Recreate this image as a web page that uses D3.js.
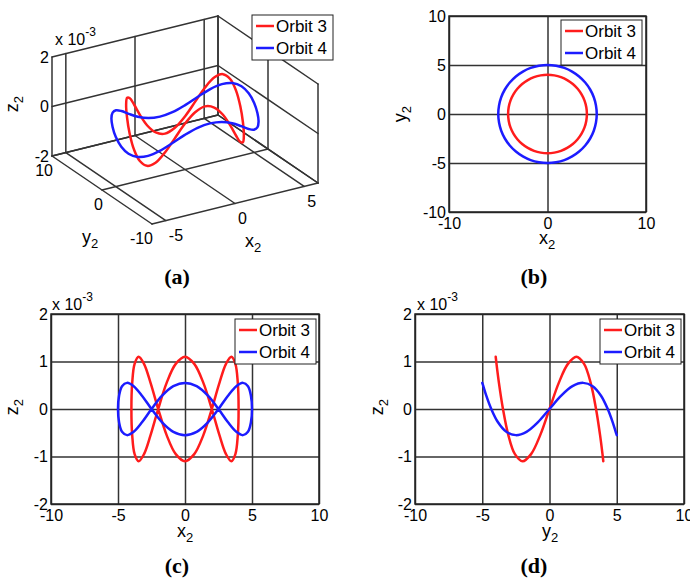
<!DOCTYPE html>
<html>
<head>
<meta charset="utf-8">
<script src="https://cdn.jsdelivr.net/npm/d3@7"></script>
<style>
  body { margin: 0; background: #fff; }
  svg text { font-family: "Liberation Sans", Arial, Helvetica, sans-serif; }
</style>
</head>
<body>
<svg id="fig" width="690" height="579"></svg>
<script>
// orbit samples (z in units of 1e-3)
const orbit3X = [4, 3.94, 3.76, 3.46, 3.06, 2.57, 2, 1.37, 0.69, 0, -0.69, -1.37, -2, -2.57, -3.06, -3.46, -3.76, -3.94,
                 -4, -3.94, -3.76, -3.46, -3.06, -2.57, -2, -1.37, -0.69, 0, 0.69, 1.37, 2, 2.57, 3.06, 3.46, 3.76, 3.94];
const orbit3Y = [0, 0.69, 1.37, 2, 2.57, 3.06, 3.46, 3.76, 3.94, 4, 3.94, 3.76, 3.46, 3.06, 2.57, 2, 1.37, 0.69,
                 0, -0.69, -1.37, -2, -2.57, -3.06, -3.46, -3.76, -3.94, -4, -3.94, -3.76, -3.46, -3.06, -2.57, -2, -1.37, -0.69];
const orbit3Z = [0, 0.55, 0.95, 1.1, 0.95, 0.55, 0, -0.55, -0.95, -1.1, -0.95, -0.55, 0, 0.55, 0.95, 1.1, 0.95, 0.55,
                 0, -0.55, -0.95, -1.1, -0.95, -0.55, 0, 0.55, 0.95, 1.1, 0.95, 0.55, 0, -0.55, -0.95, -1.1, -0.95, -0.55];

const orbit4X = [5, 4.92, 4.7, 4.33, 3.83, 3.21, 2.5, 1.71, 0.87, 0, -0.87, -1.71, -2.5, -3.21, -3.83, -4.33, -4.7, -4.92,
                 -5, -4.92, -4.7, -4.33, -3.83, -3.21, -2.5, -1.71, -0.87, 0, 0.87, 1.71, 2.5, 3.21, 3.83, 4.33, 4.7, 4.92];
const orbit4Y = [0, 0.87, 1.71, 2.5, 3.21, 3.83, 4.33, 4.7, 4.92, 5, 4.92, 4.7, 4.33, 3.83, 3.21, 2.5, 1.71, 0.87,
                 0, -0.87, -1.71, -2.5, -3.21, -3.83, -4.33, -4.7, -4.92, -5, -4.92, -4.7, -4.33, -3.83, -3.21, -2.5, -1.71, -0.87];
const orbit4Z = [0, 0.28, 0.48, 0.55, 0.48, 0.28, 0, -0.28, -0.48, -0.55, -0.48, -0.28, 0, 0.28, 0.48, 0.55, 0.48, 0.28,
                 0, -0.28, -0.48, -0.55, -0.48, -0.28, 0, 0.28, 0.48, 0.55, 0.48, 0.28, 0, -0.28, -0.48, -0.55, -0.48, -0.28];

const legendNames = ['Orbit 3', 'Orbit 4'];

// ticks
const ticksX3d = [-5, 0, 5];
const ticksY3d = [-10, 0, 10];
const ticksZ3d = [-2, 0, 2];
const ticksB_x = [-10, 0, 10];
const ticksB_y = [-10, -5, 0, 5, 10];
const ticksCD_h = [-10, -5, 0, 5, 10];
const ticksCD_z = [-2, -1, 0, 1, 2];
const panelTags = ['(a)', '(b)', '(c)', '(d)'];

const svg = d3.select('#fig');
const GRID = '#333';
const RED = '#ff1c1c', BLUE = '#1c1cff';

const orbits = [
    {name: legendNames[0], color: RED, x: orbit3X, y: orbit3Y, z: orbit3Z},
    {name: legendNames[1], color: BLUE, x: orbit4X, y: orbit4Y, z: orbit4Z}
];

// text with a subscript, e.g. x_2
function subText(g, x, y, base, sub, opts = {}) {
    const t = g.append('text')
        .attr('x', x).attr('y', y)
        .attr('text-anchor', opts.anchor || 'middle')
        .style('font-size', '18px');
    if (opts.rotate) t.attr('transform', `rotate(-90,${x},${y})`);
    t.append('tspan').text(base);
    t.append('tspan').attr('dy', 5).style('font-size', '13px').text(sub);
    return t;
}

function exponentText(g, x, y) {
    const t = g.append('text').attr('x', x).attr('y', y).style('font-size', '16px');
    t.append('tspan').text('x 10');
    t.append('tspan').attr('dy', -9).style('font-size', '12px').text('-3');
}

function legend(g, x, y) {
    g.append('rect').attr('x', x).attr('y', y).attr('width', 81).attr('height', 45)
        .attr('fill', '#fff').attr('stroke', '#222').attr('stroke-width', 1);
    orbits.forEach((o, i) => {
        const ly = y + 11 + i * 22;
        g.append('line').attr('x1', x + 4).attr('x2', x + 22).attr('y1', ly).attr('y2', ly)
            .attr('stroke', o.color).attr('stroke-width', 2.5);
        g.append('text').attr('x', x + 24).attr('y', ly + 6).style('font-size', '17px').text(o.name);
    });
}

function caption(x, y, s) {
    svg.append('text').attr('x', x).attr('y', y).attr('text-anchor', 'middle')
        .style('font-family', '"Liberation Serif", "Times New Roman", serif')
        .style('font-weight', 'bold').style('font-size', '22px').text(s);
}

// ---------- 2D panels ----------
function panel2d(cfg) {
    const g = svg.append('g');
    const xScale = d3.scaleLinear().domain(cfg.xDomain).range([cfg.left, cfg.right]);
    const yScale = d3.scaleLinear().domain(cfg.yDomain).range([cfg.bottom, cfg.top]);
    const w = cfg.right - cfg.left, h = cfg.bottom - cfg.top;

    const xAxis = g.append('g').attr('transform', `translate(0,${cfg.bottom})`)
        .call(d3.axisBottom(xScale).tickValues(cfg.xTicks).tickSize(-h).tickPadding(6).tickFormat(d => String(d)));
    const yAxis = g.append('g').attr('transform', `translate(${cfg.left},0)`)
        .call(d3.axisLeft(yScale).tickValues(cfg.yTicks).tickSize(-w).tickPadding(3).tickFormat(d => String(d)));
    [xAxis, yAxis].forEach(a => {
        a.select('.domain').remove();
        a.selectAll('.tick line').attr('stroke', GRID).attr('stroke-width', 1.5);
        a.selectAll('.tick text').attr('fill', '#000')
            .style('font-family', '"Liberation Sans", Arial, sans-serif').style('font-size', '16px');
    });
    g.append('rect').attr('x', cfg.left).attr('y', cfg.top).attr('width', w).attr('height', h)
        .attr('fill', 'none').attr('stroke', '#222').attr('stroke-width', 1.5);

    orbits.forEach(o => {
        const line = d3.line().curve(d3.curveCatmullRomClosed)
            .x(i => xScale(o[cfg.hKey][i]))
            .y(i => yScale(o[cfg.vKey][i]));
        g.append('path').attr('d', line(d3.range(o.x.length)))
            .attr('fill', 'none').attr('stroke', o.color).attr('stroke-width', 2.5)
            .attr('stroke-linejoin', 'round');
    });

    legend(g, cfg.legend[0], cfg.legend[1]);
    subText(g, cfg.xLabel[0], cfg.xLabel[1], cfg.xLabel[2], '2');
    subText(g, cfg.yLabel[0], cfg.yLabel[1], cfg.yLabel[2], '2', {rotate: true});
    if (cfg.exponent) exponentText(g, cfg.exponent[0], cfg.exponent[1]);
}

panel2d({left: 449, right: 646, top: 16, bottom: 212,
    xDomain: [-10, 10], yDomain: [-10, 10], xTicks: ticksB_x, yTicks: ticksB_y,
    hKey: 'x', vKey: 'y', legend: [561, 20],
    xLabel: [547, 244, 'x'], yLabel: [406, 114, 'y']});

panel2d({left: 51, right: 319, top: 314, bottom: 504,
    xDomain: [-10, 10], yDomain: [-2, 2], xTicks: ticksCD_h, yTicks: ticksCD_z,
    hKey: 'x', vKey: 'z', legend: [235, 319],
    xLabel: [185, 537, 'x'], yLabel: [18, 407, 'z'], exponent: [52, 310]});

panel2d({left: 415, right: 684, top: 314, bottom: 504,
    xDomain: [-10, 10], yDomain: [-2, 2], xTicks: ticksCD_h, yTicks: ticksCD_z,
    hKey: 'y', vKey: 'z', legend: [600, 319],
    xLabel: [550, 537, 'y'], yLabel: [383, 407, 'z'], exponent: [417, 310]});

// ---------- 3D panel (a) ----------
const g3 = svg.append('g');
const floorCenter = [185, 169.5];
const xToSx = d3.scaleLinear().domain([-6, 6]).range([-83, 83]);
const xToSy = d3.scaleLinear().domain([-6, 6]).range([20.5, -20.5]);
const yToSx = d3.scaleLinear().domain([-10, 10]).range([50, -50]);
const yToSy = d3.scaleLinear().domain([-10, 10]).range([34, -34]);
const zToSy = d3.scaleLinear().domain([-2, 2]).range([0, -99]);
const X0 = -6, X1 = 6, Y0 = -10, Y1 = 10, Z0 = -2, Z1 = 2;

function proj(x, y, z) {
    return [floorCenter[0] + xToSx(x) + yToSx(y),
            floorCenter[1] + xToSy(x) + yToSy(y) + zToSy(z)];
}
function seg(a, b) {
    const p = proj(...a), q = proj(...b);
    g3.append('line').attr('x1', p[0]).attr('y1', p[1]).attr('x2', q[0]).attr('y2', q[1])
        .attr('stroke', GRID).attr('stroke-width', 1.5).attr('stroke-linecap', 'round');
}

const xLines = [X0, ...ticksX3d, X1];
const yLines = [...ticksY3d];
// floor
xLines.forEach(x => seg([x, Y0, Z0], [x, Y1, Z0]));
yLines.forEach(y => seg([X0, y, Z0], [X1, y, Z0]));
// back wall (y = ymax)
xLines.forEach(x => seg([x, Y1, Z0], [x, Y1, Z1]));
ticksZ3d.forEach(z => seg([X0, Y1, z], [X1, Y1, z]));
// right wall (x = xmax)
yLines.forEach(y => seg([X1, y, Z0], [X1, y, Z1]));
ticksZ3d.forEach(z => seg([X1, Y0, z], [X1, Y1, z]));

orbits.forEach(o => {
    const line = d3.line().curve(d3.curveCatmullRomClosed)
        .x(i => proj(o.x[i], o.y[i], o.z[i])[0])
        .y(i => proj(o.x[i], o.y[i], o.z[i])[1]);
    g3.append('path').attr('d', line(d3.range(o.x.length)))
        .attr('fill', 'none').attr('stroke', o.color).attr('stroke-width', 2.5);
});

ticksZ3d.forEach(z => {
    const p = proj(X0, Y1, z);
    g3.append('text').attr('x', p[0] - 3).attr('y', p[1]).attr('dy', '0.35em')
        .attr('text-anchor', 'end').style('font-size', '16px').text(String(z));
});
ticksY3d.forEach(y => {
    const p = proj(X0, y, Z0);
    g3.append('text').attr('x', p[0] + 1).attr('y', p[1] + 14).attr('dy', '0.35em')
        .attr('text-anchor', 'end').style('font-size', '16px').text(String(y));
});
ticksX3d.forEach(x => {
    const p = proj(x, Y0, Z0);
    g3.append('text').attr('x', p[0] + 3).attr('y', p[1] + 15).attr('dy', '0.35em')
        .attr('text-anchor', 'start').style('font-size', '16px').text(String(x));
});
exponentText(g3, 55, 45);
legend(g3, 252, 15);
subText(g3, 82, 243, 'y', '2', {anchor: 'start'});
subText(g3, 245, 247, 'x', '2', {anchor: 'start'});
subText(g3, 18, 104, 'z', '2', {rotate: true});

caption(177, 284, panelTags[0]);
caption(534, 284, panelTags[1]);
caption(177, 573, panelTags[2]);
caption(534, 573, panelTags[3]);
</script>
</body>
</html>
